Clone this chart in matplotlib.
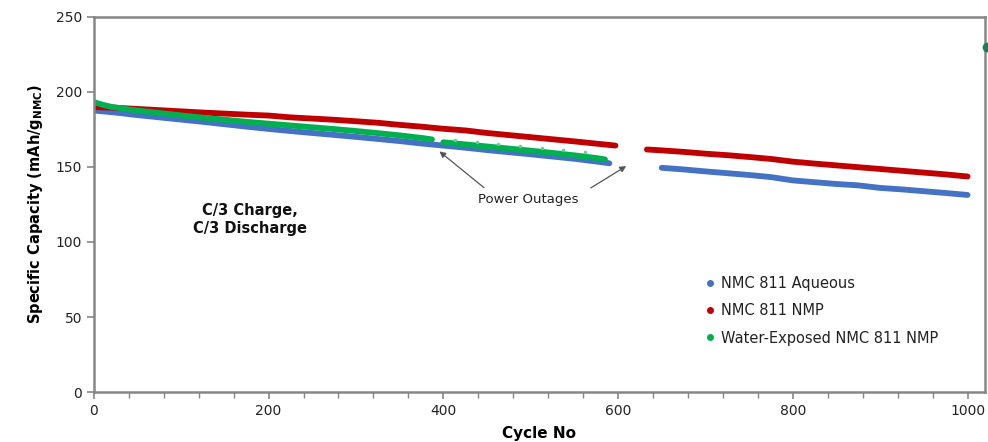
import numpy as np
import matplotlib
matplotlib.use("Agg")
import matplotlib.pyplot as plt
from matplotlib.lines import Line2D
from matplotlib.ticker import MultipleLocator

# NMC 811 Aqueous (two runs, gap around cycle 600-650)
aq_cyc1 = [1, 25, 50, 75, 100, 125, 150, 175, 200, 225, 250, 275, 300, 325, 350, 375, 400, 425, 450, 475, 500, 525, 550, 575, 590]
aq_cap1 = [187.5, 186.2, 184.5, 183.0, 181.5, 180.0, 178.4, 176.8, 175.3, 173.9, 172.6, 171.3, 170.0, 168.6, 167.2, 165.6, 164.2, 162.8, 161.2, 159.8, 158.4, 156.9, 155.4, 153.6, 152.4]
aq_cyc2 = [650, 675, 700, 725, 750, 775, 800, 825, 850, 875, 900, 925, 950, 975, 1000]
aq_cap2 = [149.4, 148.3, 147.0, 145.8, 144.6, 143.2, 141.0, 139.8, 138.6, 137.7, 136.0, 135.0, 133.8, 132.6, 131.3]

# NMC 811 NMP
nmp_cyc1 = [1, 25, 50, 75, 100, 125, 150, 175, 200, 225, 250, 275, 300, 325, 350, 375, 400, 425, 450, 475, 500, 525, 550, 575, 597]
nmp_cap1 = [189.8, 189.4, 188.6, 187.8, 187.0, 186.2, 185.5, 184.8, 184.2, 183.0, 182.2, 181.4, 180.4, 179.4, 178.0, 176.8, 175.4, 174.3, 172.6, 171.2, 169.8, 168.4, 167.0, 165.5, 164.2]
nmp_cyc2 = [633, 650, 675, 700, 725, 750, 775, 800, 825, 850, 875, 900, 925, 950, 975, 1000]
nmp_cap2 = [161.6, 161.0, 160.0, 158.8, 157.8, 156.6, 155.3, 153.5, 152.2, 151.0, 149.8, 148.6, 147.4, 146.2, 145.0, 143.6]

# Water-Exposed NMC 811 NMP
we_cyc1 = [1, 10, 20, 40, 60, 80, 100, 125, 150, 175, 200, 225, 250, 275, 300, 325, 350, 375, 387]
we_cap1 = [193.0, 191.4, 190.0, 188.3, 186.9, 185.6, 184.3, 182.8, 181.4, 180.0, 178.8, 177.6, 176.4, 175.2, 173.9, 172.5, 171.0, 169.3, 168.3]
we_cyc2 = [400, 425, 450, 475, 500, 525, 550, 575, 585]
we_cap2 = [166.4, 165.0, 163.6, 162.2, 160.8, 159.3, 157.7, 155.9, 155.0]
we_out_cyc = [413, 439, 463, 488, 513, 537, 562]
we_out_cap = [168.0, 166.8, 165.5, 164.1, 162.8, 161.2, 159.6]

# stray marker cut off at the right edge
stray_x = [1022]
stray_y = [230]

c_blue = "#4472C4"
c_red = "#C00000"
c_green = "#00B050"
c_axis = "#868686"

fig = plt.figure(figsize=(9.88, 4.42), dpi=100)
ax = fig.add_axes([0.095, 0.113, 0.902, 0.849])

lw = 4.2
for xs, ys in [(aq_cyc1, aq_cap1), (aq_cyc2, aq_cap2)]:
    ax.plot(xs, ys, color=c_blue, lw=lw, solid_capstyle="round")
for xs, ys in [(nmp_cyc1, nmp_cap1), (nmp_cyc2, nmp_cap2)]:
    ax.plot(xs, ys, color=c_red, lw=lw, solid_capstyle="round")
for xs, ys in [(we_cyc1, we_cap1), (we_cyc2, we_cap2)]:
    ax.plot(xs, ys, color=c_green, lw=lw, solid_capstyle="round")
ax.plot(we_out_cyc, we_out_cap, ls="none", marker="o", ms=2.5, color="#5FD38D", mew=0)

ax.plot(stray_x, stray_y, ls="none", marker="o", ms=6, color="#1E7B4B", clip_on=False, zorder=5)

ax.set_xlim(0, 1020)
ax.set_ylim(0, 250)
ax.xaxis.set_major_locator(MultipleLocator(200))
ax.xaxis.set_minor_locator(MultipleLocator(40))
ax.yaxis.set_major_locator(MultipleLocator(50))
ax.tick_params(axis="both", which="both", direction="out", color=c_axis, labelsize=10, labelcolor="#222222")
ax.tick_params(which="major", length=5, width=1.2)
ax.tick_params(which="minor", length=4, width=1.0)
for s in ax.spines.values():
    s.set_color(c_axis)
    s.set_linewidth(1.8)

ax.set_xlabel("Cycle No", fontsize=11, fontweight="bold", labelpad=6)
ax.set_ylabel("Specific Capacity (mAh/g$_{\\mathregular{NMC}}$)", fontsize=10.5, fontweight="bold", labelpad=8)

ax.text(179, 115, "C/3 Charge,\nC/3 Discharge", fontsize=10.5, fontweight="bold", ha="center", va="center", color="#111111")

ax.text(497, 128.5, "Power Outages", fontsize=9.5, ha="center", va="center", color="#222222")
ax.annotate("", xy=(393, 161.5), xytext=(449, 135),
            arrowprops=dict(arrowstyle="-|>", color="#555555", lw=0.9, mutation_scale=9))
ax.annotate("", xy=(612, 151.5), xytext=(566, 135),
            arrowprops=dict(arrowstyle="-|>", color="#555555", lw=0.9, mutation_scale=9))

handles = [Line2D([], [], ls="none", marker="o", ms=4, color=c) for c in (c_blue, c_red, c_green)]
labels = ["NMC 811 Aqueous", "NMC 811 NMP", "Water-Exposed NMC 811 NMP"]
ax.legend(handles, labels, loc="upper left", bbox_to_anchor=(0.668, 0.345), frameon=False,
          fontsize=10.5, labelspacing=0.85, handletextpad=0.25, handlelength=1.0, labelcolor="#222222")

fig.savefig("out.png", dpi=100)
